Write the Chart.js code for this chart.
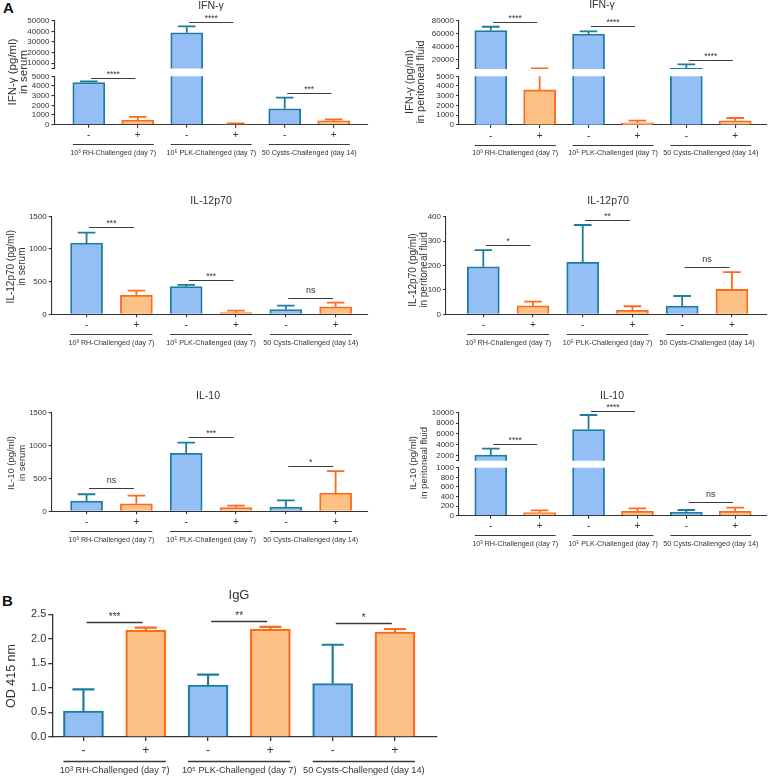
<!DOCTYPE html>
<html>
<head>
<meta charset="utf-8">
<script src="https://cdn.jsdelivr.net/npm/chart.js@4.4.1/dist/chart.umd.min.js"></script>
<style>
  body { margin: 0; background: #fff; }
  #fig { position: relative; width: 770px; height: 779px; font-family: "Liberation Sans", Arial, sans-serif; }
  #fig canvas { position: absolute; }
  .tag { position: absolute; font-weight: bold; font-size: 15px; color: #111; }
</style>
</head>
<body>
<div id="fig">
  <div class="tag" style="left:3px;top:-1px">A</div>
  <div class="tag" style="left:2px;top:592px">B</div>
</div>
<script>
// shared categories
const xTickLabels = ['-', '+', '-', '+', '-', '+'];
const groupLabels = ['10³ RH-Challenged (day 7)', '10⁵ PLK-Challenged (day 7)', '50 Cysts-Challenged (day 14)'];

// IFN-γ in serum
const ifnSerumMean = [4350, 480, 38700, 60, 1650, 410];
const ifnSerumSD = [130, 320, 6000, 70, 1140, 150];
const ifnSerumSig = ['****', '****', '***'];
const ifnSerumSigY = [4850, 49000, 3300];
const ifnSerumTicksLow = [0, 1000, 2000, 3000, 4000, 5000];
const ifnSerumTicksHigh = [5000, 10000, 20000, 30000, 40000, 50000];

// IFN-γ in peritoneal fluid
const ifnPeriMean = [65000, 3600, 59500, 220, 6000, 440];
const ifnPeriSD = [6000, 2300, 4300, 230, 6200, 280];
const ifnPeriSig = ['****', '****', '****'];
const ifnPeriSigY = [78000, 72000, 19000];
const ifnPeriTicksLow = [0, 1000, 2000, 3000, 4000, 5000];
const ifnPeriTicksHigh = [5000, 20000, 40000, 60000, 80000];

// IL-12p70 in serum
const il12SerumMean = [1090, 290, 425, 28, 72, 115];
const il12SerumSD = [160, 71, 24, 27, 60, 63];
const il12SerumSig = ['***', '***', 'ns'];
const il12SerumSigY = [1332, 525, 254];
const il12SerumTicks = [0, 500, 1000, 1500];

// IL-12p70 in peritoneal fluid
const il12PeriMean = [195, 35, 213, 16, 34, 102];
const il12PeriSD = [68, 17, 153, 17, 41, 71];
const il12PeriSig = ['*', '**', 'ns'];
const il12PeriSigY = [284, 386, 195];
const il12PeriTicks = [0, 100, 200, 300, 400];

// IL-10 in serum
const il10SerumMean = [155, 115, 880, 55, 65, 277];
const il10SerumSD = [103, 121, 160, 30, 102, 333];
const il10SerumSig = ['ns', '***', '*'];
const il10SerumSigY = [348, 1121, 691];
const il10SerumTicks = [0, 500, 1000, 1500];

// IL-10 in peritoneal fluid
const il10PeriMean = [2050, 65, 6800, 92, 70, 90];
const il10PeriSD = [1180, 47, 2700, 62, 49, 77];
const il10PeriSig = ['****', '****', 'ns'];
const il10PeriSigY = [4100, 10200, 280];
const il10PeriTicksLow = [0, 200, 400, 600, 800, 1000];
const il10PeriTicksHigh = [1000, 2000, 4000, 6000, 8000, 10000];

// IgG
const iggMean = [0.53, 2.18, 1.06, 2.20, 1.09, 2.14];
const iggSD = [0.44, 0.05, 0.21, 0.045, 0.79, 0.06];
const iggSig = ['***', '**', '*'];
const iggSigY = [2.35, 2.37, 2.32];
const iggTicks = [0, 0.5, 1, 1.5, 2, 2.5];

const BLUE_FILL = '#93bff6';
const BLUE_LINE = '#1e7c9c';
const ORANGE_FILL = '#fdc185';
const ORANGE_LINE = '#fb6a1d';
const INK = '#333';
const FAMILY = '"Liberation Sans", Arial, sans-serif';

Chart.defaults.font.family = FAMILY;
Chart.defaults.color = INK;

const small = { title: 10.5, yTick: 8, xTick: 10, group: 7.2, yTitle: 10, star: 8.5, ns: 9,
  yw: 40, xh: 14, barW: 32, bw: 1.8, axisW: 1.1, tick: 3, grpLine: 19.5, grpText: 28.5, lh: 11 };
const big = { title: 13, yTick: 11, xTick: 12, group: 9.2, yTitle: 12.5, star: 10, ns: 11,
  yw: 44, xh: 18, barW: 40, bw: 2.2, axisW: 1.3, tick: 4, grpLine: 24, grpText: 33.7, lh: 13 };

function drawPanel(p) {
  const fig = document.getElementById('fig');
  const s = p.style;
  const last = p.segments.length - 1;
  p.segments.forEach((seg, k) => {
    const main = k === last;
    const cv = document.createElement('canvas');
    cv.width = p.box.w;
    cv.height = p.box.h;
    cv.style.left = p.box.l + 'px';
    cv.style.top = p.box.t + 'px';
    fig.appendChild(cv);
    const xh = main ? s.xh : 0;
    const sigLo = main ? -Infinity : seg.min;
    const sigHi = k === 0 ? Infinity : seg.max;

    const decor = {
      id: 'decor',
      afterDatasetsDraw(chart) {
        const { ctx, chartArea: a, scales: { x, y } } = chart;
        const step = x.getPixelForValue(1) - x.getPixelForValue(0);
        const capW = s.barW * 0.55;

        // error bars (upper only)
        ctx.save();
        ctx.beginPath();
        ctx.rect(0, a.top, chart.width, a.bottom - a.top);
        ctx.clip();
        ctx.lineWidth = s.bw;
        p.mean.forEach((m, i) => {
          if (!main && m + p.sd[i] <= seg.min) return;
          const cx = x.getPixelForValue(i);
          const yTop = y.getPixelForValue(m + p.sd[i]);
          const yMean = y.getPixelForValue(m);
          ctx.strokeStyle = i % 2 ? ORANGE_LINE : BLUE_LINE;
          ctx.beginPath();
          ctx.moveTo(cx, yMean);
          ctx.lineTo(cx, yTop);
          ctx.moveTo(cx - capW / 2, yTop);
          ctx.lineTo(cx + capW / 2, yTop);
          ctx.stroke();
        });
        ctx.restore();

        // significance brackets
        ctx.save();
        ctx.strokeStyle = '#3a3a3a';
        ctx.fillStyle = INK;
        ctx.lineWidth = s.axisW;
        ctx.textAlign = 'center';
        ctx.textBaseline = 'alphabetic';
        p.sig.forEach((label, g) => {
          const v = p.sigY[g];
          if (v < sigLo || v >= sigHi) return;
          const xa = x.getPixelForValue(2 * g) + 0.05 * step;
          const xb = x.getPixelForValue(2 * g + 1) - 0.05 * step;
          const yy = Math.round(y.getPixelForValue(v)) + 0.5;
          ctx.beginPath();
          ctx.moveTo(xa, yy);
          ctx.lineTo(xb, yy);
          ctx.stroke();
          const isNs = label === 'ns';
          ctx.font = `${isNs ? s.ns : s.star}px ${FAMILY}`;
          ctx.fillText(label, (xa + xb) / 2, yy - (isNs ? s.ns * 0.6 : s.star * 0.22));
        });
        ctx.restore();
      },
      afterDraw(chart) {
        if (!main) return;
        const { ctx, chartArea: a, scales: { x } } = chart;
        ctx.save();
        ctx.fillStyle = INK;
        ctx.strokeStyle = '#3a3a3a';
        ctx.lineWidth = s.axisW;
        ctx.textAlign = 'center';
        ctx.textBaseline = 'middle';

        // group rows under the axis
        ctx.font = `${s.group}px ${FAMILY}`;
        groupLabels.forEach((g, k2) => {
          const xa = x.getPixelForValue(2 * k2) - s.barW / 2;
          const xb = x.getPixelForValue(2 * k2 + 1) + s.barW / 2;
          const yl = Math.round(a.bottom + s.grpLine) + 0.5;
          ctx.beginPath();
          ctx.moveTo(xa, yl);
          ctx.lineTo(xb, yl);
          ctx.stroke();
          ctx.fillText(g, (xa + xb) / 2, a.bottom + s.grpText);
        });

        // panel title
        ctx.font = `${s.title}px ${FAMILY}`;
        ctx.fillText(p.title, p.titleX - p.box.l, p.titleY - p.box.t);

        // y axis title
        const ySize = p.yTitleSize || s.yTitle;
        ctx.font = `${ySize}px ${FAMILY}`;
        ctx.translate(p.yTitleX - p.box.l, p.yTitleY - p.box.t);
        ctx.rotate(-Math.PI / 2);
        const n = p.yTitle.length;
        p.yTitle.forEach((line, j) => {
          ctx.fillText(line, 0, (j - (n - 1) / 2) * s.lh);
        });
        ctx.restore();
      }
    };

    new Chart(cv, {
      type: 'bar',
      data: {
        datasets: [{
          // the upper part of a broken axis only carries the bars that reach it
          data: p.mean.map((v, i) => ({ x: i, y: main || v > seg.min ? v : null })),
          backgroundColor: p.mean.map((v, i) => (i % 2 ? ORANGE_FILL : BLUE_FILL)),
          borderColor: p.mean.map((v, i) => (i % 2 ? ORANGE_LINE : BLUE_LINE)),
          borderWidth: s.bw,
          barThickness: s.barW,
          clip: 0,
        }],
      },
      options: {
        responsive: false,
        animation: false,
        events: [],
        layout: {
          padding: {
            left: p.x0 - p.box.l - s.yw,
            right: p.box.l + p.box.w - p.x1,
            top: seg.y0 - p.box.t,
            bottom: p.box.t + p.box.h - seg.y1 - xh,
          },
        },
        plugins: { legend: { display: false }, tooltip: { enabled: false }, title: { display: false } },
        scales: {
          x: {
            type: 'linear',
            display: main,
            min: p.xMin,
            max: p.xMax,
            offset: false,
            afterBuildTicks: (scale) => {
              scale.ticks = xTickLabels.map((t, i) => ({ value: i }));
            },
            afterFit: (scale) => { scale.height = xh; },
            border: { color: INK, width: s.axisW },
            grid: { drawOnChartArea: false, offset: false, color: INK, lineWidth: s.axisW, tickLength: s.tick },
            ticks: {
              color: INK,
              font: { size: s.xTick },
              padding: 2,
              autoSkip: false,
              maxRotation: 0,
              callback: (value) => xTickLabels[value] ?? '',
            },
          },
          y: {
            min: seg.min,
            max: seg.max,
            afterBuildTicks: (scale) => {
              scale.ticks = seg.ticks.map((value) => ({ value }));
            },
            afterFit: (scale) => { scale.width = s.yw; },
            border: { color: INK, width: s.axisW },
            grid: { drawOnChartArea: false, color: INK, lineWidth: s.axisW, tickLength: s.tick },
            ticks: {
              color: INK,
              font: { size: s.yTick },
              padding: 2,
              autoSkip: false,
              callback: (value) => {
                if (!main && value === seg.min) return '';
                return p.fmt ? p.fmt(value) : String(value);
              },
            },
          },
        },
      },
      plugins: [decor],
    });
  });
}

drawPanel({
  style: small, box: { l: 0, t: 0, w: 385, h: 165 },
  x0: 54.5, x1: 368, xMin: -0.7, xMax: 5.7,
  segments: [
    { y0: 20.7, y1: 68.6, min: 5000, max: 50000, ticks: ifnSerumTicksHigh },
    { y0: 76.3, y1: 124.7, min: 0, max: 5000, ticks: ifnSerumTicksLow },
  ],
  mean: ifnSerumMean, sd: ifnSerumSD, sig: ifnSerumSig, sigY: ifnSerumSigY,
  title: 'IFN-γ', titleX: 211, titleY: 6.5,
  yTitle: ['IFN-γ (pg/ml)', 'in serum'], yTitleX: 18.5, yTitleY: 72, yTitleSize: 11.5,
});

drawPanel({
  style: small, box: { l: 385, t: 0, w: 385, h: 165 },
  x0: 459, x1: 767, xMin: -0.65, xMax: 5.65,
  segments: [
    { y0: 21, y1: 68.9, min: 5000, max: 80000, ticks: ifnPeriTicksHigh },
    { y0: 76.3, y1: 125, min: 0, max: 5000, ticks: ifnPeriTicksLow },
  ],
  mean: ifnPeriMean, sd: ifnPeriSD, sig: ifnPeriSig, sigY: ifnPeriSigY,
  title: 'IFN-γ', titleX: 602, titleY: 5.5,
  yTitle: ['IFN-γ (pg/ml)', 'in peritoneal fluid'], yTitleX: 415, yTitleY: 82, yTitleSize: 11,
});

drawPanel({
  style: small, box: { l: 0, t: 165, w: 385, h: 185 },
  x0: 51.7, x1: 368, xMin: -0.7, xMax: 5.65,
  segments: [{ y0: 216.3, y1: 314.3, min: 0, max: 1500, ticks: il12SerumTicks }],
  mean: il12SerumMean, sd: il12SerumSD, sig: il12SerumSig, sigY: il12SerumSigY,
  title: 'IL-12p70', titleX: 211, titleY: 201,
  yTitle: ['IL-12p70 (pg/ml)', 'in serum'], yTitleX: 16.7, yTitleY: 266.7,
});

drawPanel({
  style: small, box: { l: 385, t: 165, w: 385, h: 185 },
  x0: 446, x1: 766.7, xMin: -0.75, xMax: 5.7,
  segments: [{ y0: 216.7, y1: 314.3, min: 0, max: 400, ticks: il12PeriTicks }],
  mean: il12PeriMean, sd: il12PeriSD, sig: il12PeriSig, sigY: il12PeriSigY,
  title: 'IL-12p70', titleX: 608, titleY: 201,
  yTitle: ['IL-12p70 (pg/ml)', 'in peritoneal fluid'], yTitleX: 418.5, yTitleY: 270,
});

drawPanel({
  style: small, box: { l: 0, t: 350, w: 385, h: 200 },
  x0: 51.7, x1: 368, xMin: -0.7, xMax: 5.65,
  segments: [{ y0: 412.3, y1: 511.3, min: 0, max: 1500, ticks: il10SerumTicks }],
  mean: il10SerumMean, sd: il10SerumSD, sig: il10SerumSig, sigY: il10SerumSigY,
  title: 'IL-10', titleX: 208, titleY: 396,
  yTitle: ['IL-10 (pg/ml)', 'in serum'], yTitleX: 17, yTitleY: 463, yTitleSize: 9.5,
});

drawPanel({
  style: small, box: { l: 385, t: 350, w: 385, h: 200 },
  x0: 459, x1: 767, xMin: -0.65, xMax: 5.65,
  segments: [
    { y0: 412.3, y1: 460.7, min: 1000, max: 10000, ticks: il10PeriTicksHigh },
    { y0: 467.7, y1: 515.7, min: 0, max: 1000, ticks: il10PeriTicksLow },
  ],
  mean: il10PeriMean, sd: il10PeriSD, sig: il10PeriSig, sigY: il10PeriSigY,
  title: 'IL-10', titleX: 612, titleY: 396,
  yTitle: ['IL-10 (pg/ml)', 'in peritoneal fluid'], yTitleX: 418.5, yTitleY: 463, yTitleSize: 9.5,
});

drawPanel({
  style: big, box: { l: 0, t: 580, w: 450, h: 199 },
  x0: 52.3, x1: 436.7, xMin: -0.5, xMax: 5.67,
  segments: [{ y0: 614.3, y1: 737, min: 0, max: 2.5, ticks: iggTicks }],
  mean: iggMean, sd: iggSD, sig: iggSig, sigY: iggSigY,
  fmt: (v) => v.toFixed(1),
  title: 'IgG', titleX: 239, titleY: 595,
  yTitle: ['OD 415 nm'], yTitleX: 12, yTitleY: 676,
});
</script>
</body>
</html>
